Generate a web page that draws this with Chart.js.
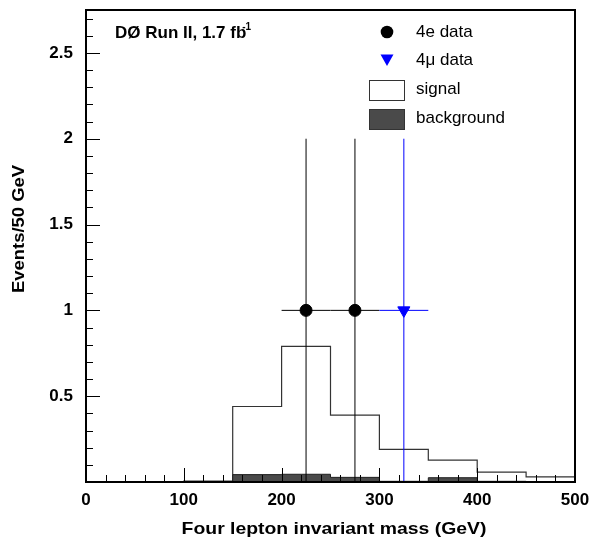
<!DOCTYPE html>
<html>
<head>
<meta charset="utf-8">
<script src="https://cdn.jsdelivr.net/npm/chart.js@4.4.1/dist/chart.umd.min.js"></script>
<style>
  html, body { margin: 0; padding: 0; background: #fff; }
  #wrap { width: 590px; height: 540px; }
</style>
</head>
<body>
<div id="wrap"><canvas id="massChart"></canvas></div>
<script>
// histogram bins (GeV) and contents (events / 50 GeV)
const binEdges = [0, 50, 100, 150, 200, 250, 300, 350, 400, 450, 500];
const signalCounts = [0, 0, 0.005, 0.44, 0.79, 0.39, 0.19, 0.128, 0.058, 0.03];
const backgroundCounts = [0, 0, 0, 0.043, 0.045, 0.027, 0.004, 0.025, 0.004, 0.002];

// candidate events
const eleMass = [225, 275];
const eleEvents = [1, 1];
const muMass = [325];
const muEvents = [1];
const massHalfWidth = [25, 25, 25];
const eventsLow = [0, 0, 0];
const eventsHigh = [2, 2, 2];

const xTickValues = [0, 100, 200, 300, 400, 500];
const yTickLabels = ['0.5', '1', '1.5', '2', '2.5'];

const FONT = '"Liberation Sans", Arial, Helvetica, sans-serif';

// turn bin contents into step points (left edge + closing edge)
function histPoints(counts) {
    let pts = counts.map((v, i) => ({ x: binEdges[i], y: v }));
    pts.push({ x: binEdges[binEdges.length - 1], y: counts[counts.length - 1] });
    return pts;
}

// no extra padding from tick label overflow, layout padding decides the plot box
function fixAxis(s, size) {
    if (s.isHorizontal()) s.height = size; else s.width = size;
    s.paddingLeft = s.paddingRight = s.paddingTop = s.paddingBottom = 0;
}

// text a bit wider than the font, like the original axis titles
function stretchedText(ctx, text, cx, cy, stretch, angle) {
    ctx.save();
    ctx.translate(cx, cy);
    ctx.rotate(angle);
    ctx.scale(stretch, 1);
    ctx.textAlign = 'center';
    ctx.fillText(text, 0, 0);
    ctx.restore();
}

// error bars for the data points, drawn under the markers
const errorBars = {
    id: 'errorBars',
    afterDatasetsDraw(chart) {
        const { ctx, scales: { x, y } } = chart;
        const pts = [];
        eleMass.forEach((m, i) => pts.push({ m, e: eleEvents[i], c: '#000' }));
        muMass.forEach((m, i) => pts.push({ m, e: muEvents[i], c: '#0000ff' }));
        ctx.save();
        ctx.lineWidth = 1;
        pts.forEach((p, i) => {
            ctx.strokeStyle = p.c;
            ctx.beginPath();
            ctx.moveTo(x.getPixelForValue(p.m - massHalfWidth[i]), y.getPixelForValue(p.e));
            ctx.lineTo(x.getPixelForValue(p.m + massHalfWidth[i]), y.getPixelForValue(p.e));
            ctx.moveTo(x.getPixelForValue(p.m), y.getPixelForValue(eventsLow[i]));
            ctx.lineTo(x.getPixelForValue(p.m), y.getPixelForValue(eventsHigh[i]));
            ctx.stroke();
        });
        ctx.restore();
    }
};

// frame, inside ticks, titles, legend and label
const decorations = {
    id: 'decorations',
    afterDraw(chart) {
        const { ctx, chartArea: a, scales: { x, y } } = chart;
        ctx.save();
        ctx.strokeStyle = '#000';
        ctx.lineWidth = 1;
        ctx.beginPath();
        for (let i = 0; i <= 27; i++) {
            const py = Math.round(y.getPixelForValue(i / 10)) + 0.5;
            ctx.moveTo(a.left, py);
            ctx.lineTo(a.left + (i % 5 === 0 ? 14 : 7), py);
        }
        for (let v = 0; v <= 500; v += 20) {
            const px = Math.round(x.getPixelForValue(v)) + 0.5;
            ctx.moveTo(px, a.bottom);
            ctx.lineTo(px, a.bottom - (v % 100 === 0 ? 14 : 7));
        }
        ctx.stroke();

        ctx.lineWidth = 2;
        ctx.strokeRect(a.left, a.top, a.right - a.left, a.bottom - a.top);

        ctx.fillStyle = '#000';
        ctx.textBaseline = 'alphabetic';

        // axis titles
        ctx.font = 'bold 17px ' + FONT;
        stretchedText(ctx, 'Four lepton invariant mass (GeV)', 334, 534, 1.14, 0);
        stretchedText(ctx, 'Events/50 GeV', 24, 229, 1.085, -Math.PI / 2);

        // experiment label
        const lbl = 'D\u00d8 Run II, 1.7 fb';
        ctx.fillText(lbl, 115, 38);
        const w = ctx.measureText(lbl).width;
        ctx.font = 'bold 10px ' + FONT;
        ctx.fillText('-1', 115 + w - 4, 30);

        // legend
        ctx.font = '17px ' + FONT;
        ctx.textBaseline = 'middle';
        ctx.beginPath();
        ctx.arc(387, 32, 6.3, 0, Math.PI * 2);
        ctx.fill();
        ctx.fillText('4e data', 416, 32);

        ctx.fillStyle = '#0000ff';
        ctx.beginPath();
        ctx.moveTo(380.5, 54.5);
        ctx.lineTo(393.5, 54.5);
        ctx.lineTo(387, 66);
        ctx.closePath();
        ctx.fill();
        ctx.fillStyle = '#000';
        ctx.fillText('4\u03bc data', 416, 60);

        ctx.lineWidth = 1;
        ctx.strokeStyle = '#333';
        ctx.strokeRect(369.5, 80.5, 35, 20);
        ctx.fillText('signal', 416, 89);

        ctx.fillStyle = '#4a4a4a';
        ctx.fillRect(369, 109, 35, 21);
        ctx.strokeRect(369.5, 109.5, 35, 20);
        ctx.fillStyle = '#000';
        ctx.fillText('background', 416, 118);
        ctx.restore();
    }
};

const chart = new Chart(document.getElementById('massChart'), {
    type: 'line',
    data: {
        datasets: [
            {
                label: 'background',
                data: histPoints(backgroundCounts),
                stepped: true,
                fill: 'origin',
                backgroundColor: '#4a4a4a',
                borderColor: '#222',
                borderWidth: 1,
                pointRadius: 0
            },
            {
                label: 'signal',
                data: histPoints(signalCounts),
                stepped: true,
                fill: false,
                borderColor: '#333',
                borderWidth: 1.2,
                pointRadius: 0
            },
            {
                label: '4e data',
                data: eleMass.map((m, i) => ({ x: m, y: eleEvents[i] })),
                showLine: false,
                pointStyle: 'circle',
                pointRadius: 6,
                backgroundColor: '#000',
                borderColor: '#000'
            },
            {
                label: '4\u03bc data',
                data: muMass.map((m, i) => ({ x: m, y: muEvents[i] })),
                showLine: false,
                pointStyle: 'triangle',
                rotation: 180,
                pointRadius: 7,
                backgroundColor: '#0000ff',
                borderColor: '#0000ff'
            }
        ]
    },
    options: {
        responsive: true,
        maintainAspectRatio: false,
        animation: false,
        events: [],
        layout: { padding: { left: 0, right: 15, top: 10, bottom: 0 } },
        plugins: {
            legend: { display: false },
            tooltip: { enabled: false }
        },
        scales: {
            x: {
                type: 'linear',
                min: 0,
                max: 500,
                grid: { display: false, drawTicks: false },
                border: { display: false },
                afterBuildTicks: (s) => { s.ticks = xTickValues.map(v => ({ value: v })); },
                ticks: {
                    padding: 8,
                    color: '#000',
                    font: { family: FONT, size: 17, weight: 'bold' }
                },
                afterFit: (s) => fixAxis(s, 58)
            },
            y: {
                type: 'linear',
                min: 0,
                max: 2.75,
                grid: { display: false, drawTicks: false },
                border: { display: false },
                afterBuildTicks: (s) => { s.ticks = yTickLabels.map(v => ({ value: parseFloat(v) })); },
                ticks: {
                    padding: 13,
                    color: '#000',
                    font: { family: FONT, size: 17, weight: 'bold' },
                    callback: (v) => String(v)
                },
                afterFit: (s) => fixAxis(s, 86)
            }
        }
    },
    plugins: [errorBars, decorations]
});
</script>
</body>
</html>
